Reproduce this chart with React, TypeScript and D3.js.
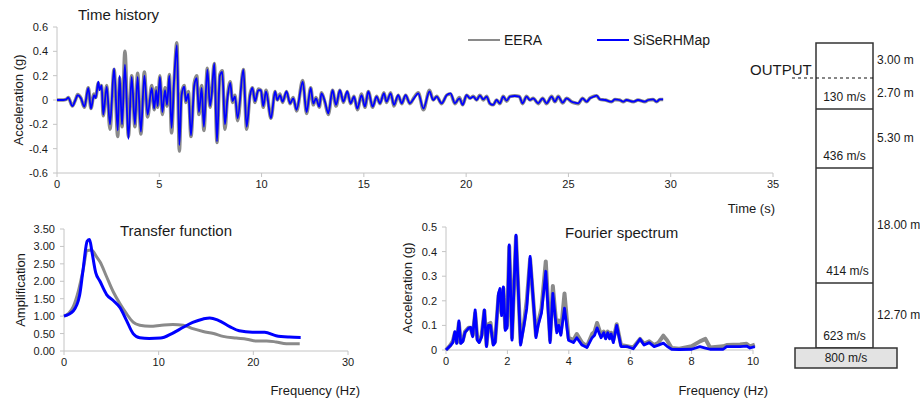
import React from "react";
import * as d3 from "d3";

const FONT = "'Liberation Sans', Arial, Helvetica, sans-serif";
const GRAY = "#8a8a8a";
const BLUE = "#0000ff";
const AXIS = "#c4c4c4";

// ---- time history (s, g) ----
const thTime = [
  0, 0.3, 0.45, 0.55, 0.75, 0.9, 1.01, 1.17, 1.34, 1.53, 1.66, 1.81, 1.89, 2.02, 2.08, 2.18, 2.26, 2.43, 2.59,
  2.79, 2.97, 3.06, 3.18, 3.32, 3.49, 3.65, 3.81, 3.94, 4.1, 4.27, 4.43, 4.63, 4.75, 4.85, 4.92, 5.03, 5.15,
  5.28, 5.38, 5.49, 5.6, 5.73, 5.86, 5.98, 6.09, 6.22, 6.3, 6.42, 6.55, 6.71, 6.83, 6.94, 7.07, 7.18, 7.35,
  7.48, 7.56, 7.69, 7.82, 7.96, 8.08, 8.21, 8.33, 8.47, 8.58, 8.7, 8.83, 9.11, 9.27, 9.43, 9.55, 9.68, 9.84,
  9.97, 10.08, 10.22, 10.46, 10.66, 10.77, 10.9, 11.03, 11.22, 11.39, 11.55, 11.71, 12.01, 12.2, 12.4, 12.53,
  12.66, 12.82, 12.93, 13.1, 13.26, 13.47, 13.64, 13.83, 14.0, 14.19, 14.35, 14.52, 14.68, 14.89, 15.05,
  15.22, 15.43, 15.62, 15.79, 15.98, 16.11, 16.31, 16.47, 16.68, 16.85, 17.04, 17.25, 17.45, 17.66, 17.91,
  18.21, 18.39, 18.56, 18.8, 19.05, 19.24, 19.45, 19.67, 19.83, 20.02, 20.19, 20.35, 20.51, 20.67, 20.84,
  21.0, 21.16, 21.32, 21.49, 21.65, 21.81, 21.98, 22.14, 22.38, 22.6, 22.76, 22.95, 23.12, 23.28, 23.52,
  23.74, 23.93, 24.18, 24.34, 24.5, 24.72, 24.91, 25.16, 25.32, 25.48, 25.69, 25.89, 26.05, 26.22, 26.38,
  26.54, 26.8, 27.11, 27.27, 27.5, 27.68, 27.84, 28.17, 28.4, 28.74, 28.9, 29.14, 29.31, 29.47, 29.63,
];
const thSiSe = [
  0, 0, 0.005, 0.02, -0.05, 0, 0.04, 0.015, -0.055, 0.1, -0.07, 0.04, 0.015, 0.15, 0.08, 0.12, -0.12, 0.11, -0.2,
  0.26, -0.25, 0.2, -0.2, 0.29, -0.32, 0.19, -0.2, 0.19, -0.26, 0.2, -0.12, 0.1, -0.07, 0.08, -0.05, 0.19, -0.1,
  0.08, -0.04, 0.2, -0.23, 0.18, 0.45, -0.37, 0.04, 0.11, -0.01, 0.05, -0.29, 0.12, 0.18, -0.1, 0.1, -0.22, 0.25,
  -0.05, 0.04, 0.3, -0.34, 0.2, 0.23, -0.2, 0.01, 0.14, -0.01, 0.03, -0.15, 0.25, -0.22, 0.03, 0.1, -0.01, 0.08,
  0.08, -0.05, 0.07, -0.15, 0.07, 0, 0.04, -0.014, 0.07, -0.027, 0.014, -0.08, 0.15, -0.1, 0.1, -0.03,
  0.014, -0.055, 0.055, -0.014, -0.11, 0.08, -0.04, 0.08, -0.014, 0.07, -0.027, 0.027, -0.07, 0.04, -0.055,
  0.07, -0.055, 0.027, -0.027, 0.055, -0.014, 0.055, -0.04, 0.04, -0.027, 0.04, -0.027, 0.014, 0.055, -0.07,
  0.07, 0, 0.027, -0.027, 0.04, 0.055, -0.027, 0.014, -0.04, 0.04, 0.014, 0.027, 0, 0.036, 0.005,
  0.027, -0.027, -0.04, 0, -0.027, 0.027, -0.005, 0.027, 0.033, 0.027, -0.027, 0.027, 0, 0.014, -0.027,
  0.014, -0.027, 0.027, -0.014, 0.027, -0.022, 0.014, -0.014, -0.022, -0.027, 0.014, -0.014, 0.014, 0.027, 0.036,
  0.005, 0, -0.014, 0.005, 0, -0.014, 0, -0.014, 0, -0.014, 0, 0.005, -0.014, 0.005, 0.005,
];
const thEera = [
  0, 0, 0.005, 0.02, -0.05, 0, 0.045, 0.015, -0.06, 0.1, -0.07, 0.05, 0.02, 0.14, 0.09, 0.12, -0.13, 0.12, -0.24,
  0.25, -0.3, 0.18, -0.22, 0.4, -0.3, 0.2, -0.22, 0.22, -0.28, 0.23, -0.14, 0.12, -0.08, 0.1, -0.06, 0.2, -0.12,
  0.1, -0.05, 0.21, -0.27, 0.17, 0.47, -0.42, 0.06, 0.12, -0.02, 0.07, -0.3, 0.14, 0.2, -0.12, 0.12, -0.25, 0.26,
  -0.06, 0.05, 0.3, -0.35, 0.21, 0.24, -0.24, 0.02, 0.15, -0.02, 0.04, -0.17, 0.25, -0.24, 0.04, 0.1, -0.02, 0.09,
  0.08, -0.06, 0.08, -0.15, 0.07, 0, 0.05, -0.02, 0.07, -0.03, 0.02, -0.09, 0.16, -0.11, 0.1, -0.04,
  0.02, -0.06, 0.06, -0.02, -0.12, 0.08, -0.05, 0.08, -0.02, 0.07, -0.03, 0.03, -0.08, 0.05, -0.06,
  0.07, -0.06, 0.03, -0.03, 0.06, -0.02, 0.06, -0.05, 0.04, -0.03, 0.04, -0.03, 0.02, 0.06, -0.08,
  0.08, 0, 0.03, -0.03, 0.04, 0.05, -0.03, 0.02, -0.04, 0.04, 0.015, 0.03, 0, 0.04, 0,
  0.03, -0.03, -0.04, 0, -0.03, 0.03, -0.01, 0.03, 0.035, 0.03, -0.03, 0.03, 0, 0.015, -0.03,
  0.015, -0.03, 0.03, -0.015, 0.03, -0.025, 0.015, -0.015, -0.025, -0.03, 0.015, -0.015, 0.015, 0.03, 0.035,
  0.005, 0, -0.015, 0.005, 0, -0.015, 0, -0.015, 0, -0.015, 0, 0.005, -0.015, 0.005, 0.005,
];

// ---- transfer function (Hz, amplification) ----
const tfFreqSiSe = [0, 0.98, 1.65, 2.0, 2.45, 2.7, 2.95, 3.35, 3.8, 4.5, 5.2, 5.9, 6.6, 7.3, 8.0, 9.0, 10.2, 11.4, 12.6, 13.6, 14.7, 15.4, 16.3, 17.5, 18.5, 19.9, 21.2, 22.4, 23.8, 25.0];
const tfSiSe = [1.0, 1.15, 1.6, 2.3, 3.15, 3.2, 2.85, 2.25, 2.0, 1.62, 1.45, 1.25, 0.88, 0.5, 0.38, 0.36, 0.37, 0.5, 0.68, 0.82, 0.92, 0.95, 0.88, 0.7, 0.58, 0.54, 0.54, 0.44, 0.4, 0.39];
const tfFreqEera = [0, 0.5, 0.98, 1.5, 2.0, 2.45, 2.9, 3.45, 3.8, 4.5, 5.2, 5.9, 6.6, 7.3, 8.0, 9.1, 10.3, 11.5, 12.6, 13.6, 14.7, 15.8, 16.8, 18.2, 19.3, 20.3, 21.4, 22.4, 23.5, 24.9];
const tfEera = [1.0, 1.08, 1.27, 1.7, 2.3, 2.88, 2.9, 2.7, 2.56, 2.13, 1.7, 1.36, 1.07, 0.83, 0.74, 0.71, 0.74, 0.76, 0.74, 0.64, 0.56, 0.5, 0.42, 0.37, 0.34, 0.29, 0.29, 0.26, 0.21, 0.21];

// ---- Fourier spectrum (Hz, g) ----
const fsFreq = [
  0, 0.13, 0.22, 0.29, 0.35, 0.42, 0.48, 0.55, 0.62, 0.73, 0.8, 0.87, 0.95, 1.02, 1.08, 1.16, 1.25, 1.32, 1.38,
  1.45, 1.54, 1.6, 1.71, 1.76, 1.81, 1.87, 1.93, 1.99, 2.06, 2.15, 2.28, 2.43, 2.54, 2.63, 2.74, 2.93, 3.0,
  3.11, 3.25, 3.39, 3.48, 3.61, 3.67, 3.74, 3.86, 3.99, 4.15, 4.26, 4.43, 4.59, 4.76, 4.84, 4.92, 5.05, 5.14,
  5.2, 5.27, 5.33, 5.38, 5.45, 5.56, 5.7, 5.9, 6.1, 6.32, 6.45, 6.62, 6.78, 6.92, 7.08, 7.2, 7.35, 7.6, 8.0,
  8.27, 8.45, 8.6, 9.03, 9.14, 9.58, 9.79, 9.9, 10.06,
];
const fsSiSe = [
  0, 0.016, 0.03, 0.075, 0.027, 0.118, 0.027, 0.035, 0.072, 0.088, 0.092, 0.054, 0.163, 0.04, 0.03, 0.054, 0.163, 0.014, 0.1,
  0.1, 0.02, 0.03, 0.23, 0.25, 0.14, 0.257, 0.08, 0.09, 0.427, 0.04, 0.467, 0.02, 0.1, 0.17, 0.38, 0.05, 0.1,
  0.15, 0.32, 0.03, 0.23, 0.07, 0.1, 0.06, 0.17, 0.04, 0.03, 0.05, 0.02, 0.01, 0.05, 0.06, 0.09, 0.05, 0.07,
  0.045, 0.07, 0.045, 0.065, 0.03, 0.1, 0.014, 0.014, 0.005, 0.045, 0.02, 0.03, 0.014, 0.02, 0.028, 0.015, 0.003, 0.002, 0.003,
  0.014, 0.008, 0.003, 0.003, 0.014, 0.014, 0.016, 0.008, 0.014,
];
const fsEera = [
  0, 0.018, 0.035, 0.07, 0.03, 0.11, 0.03, 0.04, 0.075, 0.09, 0.09, 0.06, 0.15, 0.045, 0.035, 0.06, 0.16, 0.02, 0.105,
  0.11, 0.025, 0.035, 0.22, 0.24, 0.15, 0.25, 0.09, 0.1, 0.42, 0.05, 0.46, 0.03, 0.11, 0.2, 0.37, 0.06, 0.11,
  0.17, 0.36, 0.04, 0.26, 0.08, 0.12, 0.07, 0.23, 0.05, 0.04, 0.065, 0.03, 0.015, 0.065, 0.075, 0.11, 0.06, 0.075,
  0.05, 0.075, 0.05, 0.07, 0.04, 0.105, 0.02, 0.015, 0.01, 0.045, 0.025, 0.035, 0.02, 0.03, 0.058, 0.04, 0.008, 0.005, 0.015,
  0.035, 0.045, 0.01, 0.015, 0.02, 0.022, 0.025, 0.015, 0.022,
];

// ---- soil column ----
const subLayerThick = [3.0, 2.7, 5.3, 18.0, 12.7];
const thickLabels = ["3.00 m", "2.70 m", "5.30 m", "18.00 m", "12.70 m"];
const layerVs = [130, 436, 414, 623];
const layerBottom = [5.7, 11.0, 29.0, 41.7];
const bedrockVs = 800;
const outputDepth = 3.0;

const legend = [
  { name: "EERA", color: GRAY },
  { name: "SiSeRHMap", color: BLUE },
];

const txt = { fontFamily: FONT, fill: "#1a1a1a" } as const;

function Axes({ x, y, xTicks, yTicks, yFmt, xFmt }: any) {
  const [x0, x1] = x.range();
  const [y0, y1] = y.range();
  return (
    <g>
      <line x1={x0} x2={x1} y1={y0} y2={y0} stroke={AXIS} />
      <line x1={x0} x2={x0} y1={y0} y2={y1} stroke={AXIS} />
      {xTicks.map((t: number) => (
        <g key={"x" + t}>
          <line x1={x(t)} x2={x(t)} y1={y0} y2={y0 + 4} stroke={AXIS} />
          <text x={x(t)} y={y0 + 15} textAnchor="middle" fontSize={11} {...txt}>
            {xFmt(t)}
          </text>
        </g>
      ))}
      {yTicks.map((t: number) => (
        <g key={"y" + t}>
          <line x1={x0 - 4} x2={x0} y1={y(t)} y2={y(t)} stroke={AXIS} />
          <text x={x0 - 9} y={y(t) + 4} textAnchor="end" fontSize={11} {...txt}>
            {yFmt(t)}
          </text>
        </g>
      ))}
    </g>
  );
}

function TimeHistory() {
  const x = d3.scaleLinear().domain([0, 35]).range([57, 773]);
  const y = d3.scaleLinear().domain([-0.6, 0.6]).range([173, 27]);
  const line = (vals: number[]) =>
    d3
      .line<number>()
      .x((_, i) => x(thTime[i]))
      .y((d) => y(d))
      .curve(d3.curveMonotoneX)(vals) as string;
  return (
    <g>
      <Axes
        x={x}
        y={y}
        xTicks={d3.range(0, 36, 5)}
        yTicks={y.ticks(6)}
        xFmt={(d: number) => String(d)}
        yFmt={(d: number) => String(+d.toFixed(1))}
      />
      <path d={line(thEera)} fill="none" stroke={GRAY} strokeWidth={3.5} strokeLinejoin="round" />
      <path d={line(thSiSe)} fill="none" stroke={BLUE} strokeWidth={1.8} strokeLinejoin="round" />
      <text x={78} y={20} fontSize={15} {...txt}>Time history</text>
      <text x={775} y={213} fontSize={13} textAnchor="end" {...txt}>Time (s)</text>
      <text transform="translate(23,100) rotate(-90)" fontSize={13} textAnchor="middle" {...txt}>
        Acceleration (g)
      </text>
      {legend.map((l, i) => (
        <g key={l.name} transform={`translate(${468 + i * 129},40)`}>
          <line x1={0} x2={32} y1={0} y2={0} stroke={l.color} strokeWidth={2} />
          <text x={36} y={5} fontSize={14} {...txt}>{l.name}</text>
        </g>
      ))}
    </g>
  );
}

function Transfer() {
  const x = d3.scaleLinear().domain([0, 30]).range([64, 348]);
  const y = d3.scaleLinear().domain([0, 3.5]).range([351, 229]);
  const mk = (fx: number[], vals: number[]) =>
    d3
      .line<number>()
      .x((_, i) => x(fx[i]))
      .y((d) => y(d))
      .curve(d3.curveMonotoneX)(vals) as string;
  return (
    <g>
      <Axes
        x={x}
        y={y}
        xTicks={[0, 10, 20, 30]}
        yTicks={y.ticks(7)}
        xFmt={(d: number) => String(d)}
        yFmt={d3.format(".2f")}
      />
      <path d={mk(tfFreqEera, tfEera)} fill="none" stroke={GRAY} strokeWidth={3} />
      <path d={mk(tfFreqSiSe, tfSiSe)} fill="none" stroke={BLUE} strokeWidth={3} />
      <text x={120} y={236} fontSize={15} {...txt}>Transfer function</text>
      <text x={360} y={395} fontSize={13} textAnchor="end" {...txt}>Frequency (Hz)</text>
      <text transform="translate(25,290) rotate(-90)" fontSize={13} textAnchor="middle" {...txt}>
        Amplification
      </text>
    </g>
  );
}

function Fourier() {
  const x = d3.scaleLinear().domain([0, 10]).range([446, 753]);
  const y = d3.scaleLinear().domain([0, 0.5]).range([350, 227]);
  const mk = (vals: number[]) =>
    d3
      .line<number>()
      .x((_, i) => x(fsFreq[i]))
      .y((d) => y(d))(vals) as string;
  return (
    <g>
      <Axes
        x={x}
        y={y}
        xTicks={d3.range(0, 11, 2)}
        yTicks={y.ticks(5)}
        xFmt={(d: number) => String(d)}
        yFmt={(d: number) => (d === 0 ? "0" : d3.format(".1f")(d))}
      />
      <path d={mk(fsEera)} fill="none" stroke={GRAY} strokeWidth={4} strokeLinejoin="round" />
      <path d={mk(fsSiSe)} fill="none" stroke={BLUE} strokeWidth={2.8} strokeLinejoin="round" />
      <text x={565} y={238} fontSize={15} {...txt}>Fourier spectrum</text>
      <text x={768} y={395} fontSize={13} textAnchor="end" {...txt}>Frequency (Hz)</text>
      <text transform="translate(412,288) rotate(-90)" fontSize={13} textAnchor="middle" {...txt}>
        Acceleration (g)
      </text>
    </g>
  );
}

function SoilColumn() {
  // schematic column, not drawn to scale: piecewise depth scale
  const depth = d3
    .scaleLinear()
    .domain([0, 3, 5.7, 11, 29, 41.7])
    .range([43, 78, 109, 168, 283, 348]);
  const left = 816;
  const right = 873;
  const cx = (left + right) / 2;
  const tops = d3.cumsum([0, ...subLayerThick]);
  const bottom = depth(layerBottom[layerBottom.length - 1]);
  return (
    <g stroke="#333">
      <rect x={left} y={depth(0)} width={right - left} height={bottom - depth(0)} fill="white" strokeWidth={1.5} />
      {layerBottom.slice(0, -1).map((b) => (
        <line key={b} x1={left} x2={right} y1={depth(b)} y2={depth(b)} strokeWidth={1.5} />
      ))}
      <line x1={792} x2={right} y1={depth(outputDepth)} y2={depth(outputDepth)} stroke="#111" strokeDasharray="3,3" strokeWidth={1.2} />
      <text x={750} y={depth(outputDepth) - 3} fontSize={15} stroke="none" {...txt}>OUTPUT</text>
      <rect x={795} y={bottom} width={102} height={20} fill="#e3e3e3" strokeWidth={1.5} />
      <text x={846} y={bottom + 14} fontSize={12} textAnchor="middle" stroke="none" {...txt}>
        {bedrockVs} m/s
      </text>
      {layerVs.map((v, i) => (
        <text key={v} x={cx + (i === 2 ? 3 : 0)} y={depth(layerBottom[i]) - 8} fontSize={12} textAnchor="middle" stroke="none" {...txt}>
          {v} m/s
        </text>
      ))}
      {thickLabels.map((l, i) => (
        <text key={l} x={877} y={(depth(tops[i]) + depth(tops[i + 1])) / 2 + 3} fontSize={12} stroke="none" {...txt}>
          {l}
        </text>
      ))}
    </g>
  );
}

export default function App() {
  return (
    <svg
      width={920}
      height={399}
      style={{ position: "absolute", left: 0, top: 0, background: "white" }}
    >
      <TimeHistory />
      <Transfer />
      <Fourier />
      <SoilColumn />
    </svg>
  );
}
